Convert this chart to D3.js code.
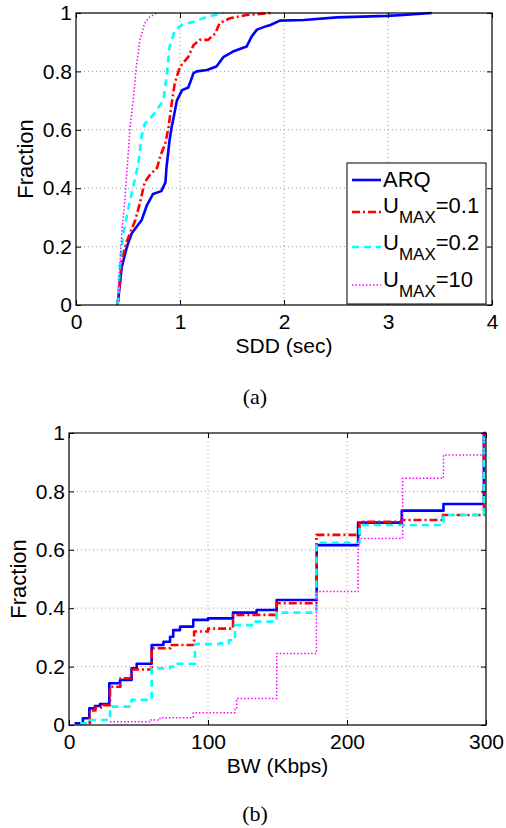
<!DOCTYPE html>
<html>
<head>
<meta charset="utf-8">
<script src="https://cdn.jsdelivr.net/npm/d3@7"></script>
<style>
  body { margin: 0; background: #fff; }
  svg { display: block; }
  text { font-family: "Liberation Sans", Arial, sans-serif; fill: #000; }
</style>
</head>
<body>
<script>
/* data */
var fracTicks = [0, 0.2, 0.4, 0.6, 0.8, 1];
var sddTicks = [0, 1, 2, 3, 4];
var bwTicks = [0, 100, 200, 300];
var seriesNames = ['ARQ', 'U=0.1', 'U=0.2', 'U=10'];
var legendValues = ['', '=0.1', '=0.2', '=10'];

/* (a) SDD in sec, fraction */
var sddARQ = [[0.4,0],[0.44,0.13],[0.49,0.2],[0.535,0.245],[0.63,0.29],[0.68,0.34],[0.74,0.38],[0.82,0.39],[0.86,0.42],[0.87,0.47],[0.9,0.565],[0.92,0.61],[0.94,0.645],[0.97,0.7],[1.02,0.736],[1.08,0.745],[1.13,0.794],[1.16,0.8],[1.26,0.805],[1.35,0.817],[1.42,0.85],[1.51,0.868],[1.64,0.885],[1.69,0.92],[1.74,0.943],[1.83,0.955],[1.87,0.959],[1.96,0.974],[2.19,0.976],[2.51,0.985],[2.99,0.99],[3.15,0.993],[3.42,1.0]];
var sddU01 = [[0.4,0],[0.44,0.154],[0.49,0.22],[0.57,0.29],[0.615,0.35],[0.66,0.42],[0.71,0.445],[0.78,0.47],[0.81,0.51],[0.86,0.555],[0.89,0.61],[0.92,0.69],[0.95,0.76],[1.0,0.816],[1.08,0.85],[1.13,0.89],[1.19,0.908],[1.27,0.908],[1.34,0.93],[1.38,0.965],[1.48,0.982],[1.64,0.993],[1.87,1.0]];
var sddU02 = [[0.4,0],[0.42,0.13],[0.455,0.245],[0.5,0.325],[0.55,0.405],[0.6,0.485],[0.63,0.576],[0.66,0.62],[0.74,0.65],[0.81,0.685],[0.84,0.7],[0.87,0.78],[0.9,0.885],[0.95,0.94],[1.02,0.96],[1.13,0.97],[1.26,0.987],[1.42,1.0]];
var sddU10 = [[0.4,0],[0.44,0.245],[0.47,0.36],[0.5,0.51],[0.52,0.61],[0.55,0.7],[0.58,0.816],[0.615,0.908],[0.66,0.965],[0.71,0.987],[0.78,1.0]];

/* (b) BW in Kbps, fraction (steps) */
var bwARQ = [[4,0.006],[10,0.023],[14.6,0.057],[18.7,0.065],[22.3,0.072],[29,0.143],[36.7,0.154],[45,0.194],[48.7,0.21],[59.5,0.274],[67.9,0.285],[72.7,0.302],[75,0.325],[79.9,0.337],[89.4,0.36],[100,0.365],[118,0.385],[135,0.394],[149.4,0.428],[178.2,0.616],[208,0.693],[239.4,0.734],[269.4,0.757],[298.5,1],[300,1]];
var bwU01 = [[14,0.007],[15,0.05],[19,0.06],[24.7,0.068],[29.5,0.131],[37,0.16],[45,0.19],[59.5,0.263],[73,0.274],[90,0.32],[100,0.33],[118,0.377],[149.4,0.417],[178,0.651],[209,0.696],[239,0.702],[269,0.719],[298.5,1],[300,1]];
var bwU02 = [[8,0.006],[15,0.017],[27,0.03],[29.5,0.063],[45,0.086],[59.5,0.194],[72.7,0.2],[75,0.21],[90.6,0.277],[108.6,0.28],[115,0.29],[119.4,0.342],[132.6,0.354],[149.4,0.385],[178,0.624],[209,0.685],[269.4,0.719],[298.5,1],[300,1]];
var bwU10 = [[29.5,0.011],[58,0.017],[65.5,0.025],[89.4,0.042],[119.4,0.054],[120.6,0.091],[149.4,0.245],[178,0.457],[208,0.639],[240,0.845],[269.4,0.925],[298.5,1],[300,1]];

/* styles per series */
var colors = ['#0000ff', '#ff0000', '#00ffff', '#ff00ff'];
var widths = [2.6, 2.6, 2.6, 1.5];
var dashes = [null, '8,3,2,3', '7,5', '1.5,2'];

var svg = d3.select('body').append('svg')
  .attr('width', 506)
  .attr('height', 828);

function drawPanel(p) {
  var x = d3.scaleLinear().domain(p.xDomain).range([p.left, p.right]);
  var y = d3.scaleLinear().domain([0, 1]).range([p.bottom, p.top]);
  var g = svg.append('g');
  var fmt = d3.format('~g');

  // dotted grid
  g.selectAll('.gx').data(p.xTicks.slice(1, -1)).enter().append('line')
    .attr('x1', d => x(d)).attr('x2', d => x(d))
    .attr('y1', p.top).attr('y2', p.bottom)
    .attr('stroke', '#999').attr('stroke-width', 1).attr('stroke-dasharray', '1,3');
  g.selectAll('.gy').data(fracTicks.slice(1, -1)).enter().append('line')
    .attr('x1', p.left).attr('x2', p.right)
    .attr('y1', d => y(d)).attr('y2', d => y(d))
    .attr('stroke', '#999').attr('stroke-width', 1).attr('stroke-dasharray', '1,3');

  // lines
  var line = d3.line().x(d => x(d[0])).y(d => y(d[1])).curve(p.curve);
  p.series.forEach(function (s, i) {
    g.append('path').datum(s)
      .attr('d', line)
      .attr('fill', 'none')
      .attr('stroke', colors[i])
      .attr('stroke-width', widths[i])
      .attr('stroke-dasharray', dashes[i])
      .attr('stroke-linejoin', 'round');
  });

  // axes, ticks inward on all sides
  g.append('g').attr('transform', 'translate(0,' + p.bottom + ')')
    .call(d3.axisBottom(x).tickValues(p.xTicks).tickFormat(fmt).tickSizeInner(-5).tickSizeOuter(0).tickPadding(9));
  g.append('g').attr('transform', 'translate(' + p.left + ',0)')
    .call(d3.axisLeft(y).tickValues(fracTicks).tickFormat(fmt).tickSizeInner(-5).tickSizeOuter(0).tickPadding(4));
  g.append('g').attr('transform', 'translate(0,' + p.top + ')')
    .call(d3.axisTop(x).tickValues(p.xTicks).tickFormat('').tickSizeInner(-5).tickSizeOuter(0));
  g.append('g').attr('transform', 'translate(' + p.right + ',0)')
    .call(d3.axisRight(y).tickValues(fracTicks).tickFormat('').tickSizeInner(-5).tickSizeOuter(0));
  g.selectAll('.domain').remove();
  g.selectAll('.tick line').attr('stroke', '#000');
  g.selectAll('.tick text')
    .attr('font-family', null).attr('font-size', null)
    .style('font-size', '21px')
    .style('font-family', '"Liberation Sans", Arial, sans-serif');
  g.selectAll('g').attr('font-family', null).attr('font-size', null);

  g.append('rect')
    .attr('x', p.left).attr('y', p.top)
    .attr('width', p.right - p.left).attr('height', p.bottom - p.top)
    .attr('fill', 'none').attr('stroke', '#000').attr('stroke-width', 1.2);

  // labels
  g.append('text')
    .attr('x', (p.left + p.right) / 2).attr('y', p.bottom + 48)
    .attr('text-anchor', 'middle').style('font-size', '21px')
    .text(p.xLabel);
  g.append('text')
    .attr('transform', 'translate(' + p.yLabelX + ',' + (p.top + p.bottom) / 2 + ') rotate(-90)')
    .attr('text-anchor', 'middle').style('font-size', '22px')
    .text('Fraction');
  g.append('text')
    .attr('x', 255).attr('y', p.captionY)
    .attr('text-anchor', 'middle')
    .style('font-family', '"Liberation Serif", "Times New Roman", serif')
    .style('font-size', '22px')
    .text(p.caption);
  return g;
}

var gA = drawPanel({
  left: 76, right: 492, top: 13, bottom: 305,
  xDomain: [0, 4], xTicks: sddTicks, xLabel: 'SDD (sec)',
  series: [sddARQ, sddU01, sddU02, sddU10], curve: d3.curveLinear,
  yLabelX: 33, caption: '(a)', captionY: 404
});

drawPanel({
  left: 69, right: 486, top: 433, bottom: 725,
  xDomain: [0, 300], xTicks: bwTicks, xLabel: 'BW (Kbps)',
  series: [bwARQ, bwU01, bwU02, bwU10], curve: d3.curveStepAfter,
  yLabelX: 26, caption: '(b)', captionY: 821
});

// legend of panel (a)
var leg = gA.append('g');
leg.append('rect')
  .attr('x', 347).attr('y', 163).attr('width', 139).attr('height', 141)
  .attr('fill', '#fff').attr('stroke', '#000').attr('stroke-width', 1);
var rowLine = [180, 212, 247, 285];
var rowBase = [187, 213, 250, 287];
seriesNames.forEach(function (name, i) {
  leg.append('line')
    .attr('x1', 352).attr('x2', 381)
    .attr('y1', rowLine[i]).attr('y2', rowLine[i])
    .attr('stroke', colors[i]).attr('stroke-width', widths[i])
    .attr('stroke-dasharray', dashes[i]);
  var t = leg.append('text').attr('x', 383).attr('y', rowBase[i]).style('font-size', '22px');
  if (i === 0) {
    t.text(name);
  } else {
    t.append('tspan').text('U');
    t.append('tspan').attr('dy', 10).style('font-size', '17px').text('MAX');
    t.append('tspan').attr('dy', -10).text(legendValues[i]);
  }
});
</script>
</body>
</html>
